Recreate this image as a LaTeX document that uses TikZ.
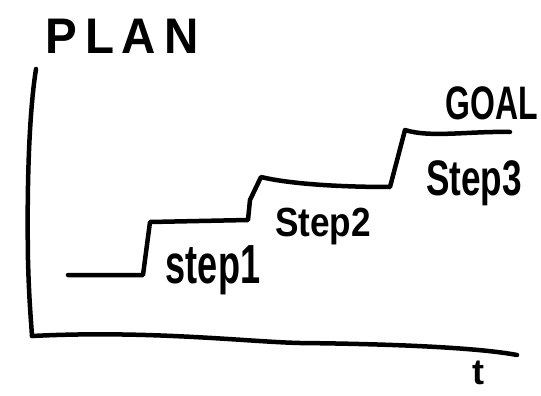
\documentclass[tikz,border=0pt]{standalone}
\usepackage{graphicx}
\usepackage{fontspec}
\setmainfont{Liberation Sans}
\tikzset{
  ink/.style={line width=4.5pt, line cap=round, line join=round, black},
  hand/.style={inner sep=0pt, outer sep=0pt, black, font=\bfseries},
}
\begin{document}
\begin{tikzpicture}[x=1pt,y=-1pt]
\useasboundingbox (0,0) rectangle (541,396);
% axes
\coordinate (ytop) at (36,69);
\coordinate (origin) at (32,336);
\coordinate (xend) at (517,355);
\draw[ink] (ytop) .. controls (28,120) and (27,200) .. (28,260)
  .. controls (29,300) and (31,320) .. (origin);
\draw[ink] (origin) .. controls (150,330) and (250,342) .. (300,343)
  .. controls (400,344) and (480,348) .. (xend);
% staircase
\coordinate (s0) at (68,275);
\coordinate (s1) at (143,275);
\coordinate (s2) at (150,222);
\coordinate (s3) at (248,220);
\coordinate (s4) at (261,177);
\coordinate (s5) at (390,187);
\coordinate (s6) at (405,130);
\coordinate (s7) at (510,132);
\draw[ink] (s0) -- (s1) -- (s2) -- (s3) -- (250,200) -- (s4)
  .. controls (290,184) and (340,187) .. (s5) -- (s6)
  .. controls (430,138) and (470,131) .. (s7);
% labels
\node[hand] (plan) at (122,36) {\scalebox{0.95}[1]{\fontsize{50}{50}\selectfont\bfseries P\,L\,A\,N}};
\node[hand] (goal) at (492,103) {\scalebox{0.68}[1]{\fontsize{47}{47}\selectfont\bfseries GOAL}};
\node[hand] (step3) at (474,183) {\scalebox{0.95}[1.35]{\fontsize{37}{37}\selectfont\bfseries Step3}};
\node[hand] (step2) at (323,227) {\scalebox{0.95}[1.1]{\fontsize{37}{37}\selectfont\bfseries Step2}};
\node[hand] (step1) at (213,270) {\scalebox{0.95}[1.45]{\fontsize{38}{38}\selectfont\bfseries step1}};
\node[hand] (t) at (478,373) {\fontsize{36}{36}\selectfont\bfseries t};
\end{tikzpicture}
\end{document}
